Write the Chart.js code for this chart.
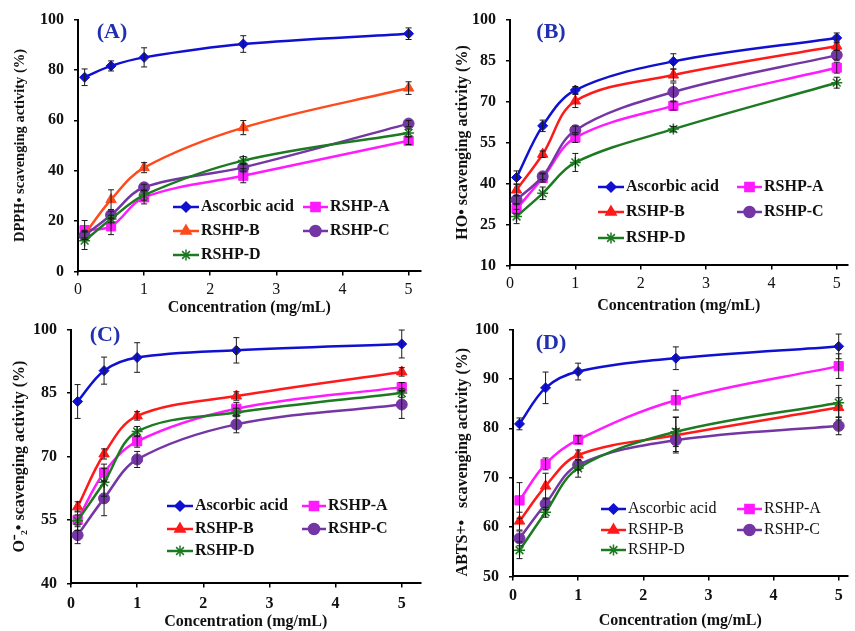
<!DOCTYPE html>
<html lang="en">
<head>
<meta charset="UTF-8">
<title>Radical scavenging activity of RSHP fractions</title>
<script src="https://cdn.jsdelivr.net/npm/chart.js"></script>
<style>
    body {
        margin: 0;
        background: #fff;
        overflow: hidden;
    }
    .board {
        position: relative;
        width: 855px;
        height: 631px;
    }
    .board canvas {
        position: absolute;
    }
</style>
</head>
<body>
<div class="board">
    <canvas id="dpphChart"></canvas>
    <canvas id="hoChart"></canvas>
    <canvas id="superoxideChart"></canvas>
    <canvas id="abtsChart"></canvas>
</div>
<script>
// shared x values and legend entries
const concentrations = [0.1, 0.5, 1, 2.5, 5];
const concTicks = [0, 1, 2, 3, 4, 5];
const seriesNames = ['Ascorbic acid', 'RSHP-A', 'RSHP-B', 'RSHP-C', 'RSHP-D'];

// (A) DPPH, rows follow seriesNames
const dpphTicks = [0, 20, 40, 60, 80, 100];
const dpphValues = [
    [77.1, 81.6, 85.0, 90.3, 94.4],
    [16.4, 17.9, 29.4, 38.0, 51.9],
    [14.8, 28.5, 41.2, 57.1, 72.8],
    [14.2, 22.4, 33.4, 41.3, 58.7],
    [12.2, 20.8, 30.3, 44.0, 55.0]
];
const dpphErrors = [
    [3.3, 2.0, 3.8, 3.3, 2.3],
    [3.8, 3.3, 2.6, 2.8, 1.5],
    [1.5, 3.9, 2.0, 2.8, 2.5],
    [1.5, 1.5, 1.2, 1.5, 1.2],
    [3.5, 1.5, 2.0, 1.6, 1.5]
];

// (B) hydroxyl radical
const hoTicks = [10, 25, 40, 55, 70, 85, 100];
const hoValues = [
    [42.2, 61.1, 74.2, 84.7, 93.3],
    [30.7, 42.0, 56.8, 68.4, 82.4],
    [37.6, 50.7, 70.2, 79.7, 90.3],
    [34.0, 42.6, 59.5, 73.5, 87.0],
    [27.9, 36.4, 47.7, 59.9, 76.9]
];
const hoErrors = [
    [2.4, 2.1, 1.3, 2.8, 1.8],
    [1.8, 1.5, 1.8, 1.5, 2.0],
    [2.1, 1.2, 2.4, 2.2, 1.5],
    [1.5, 1.2, 1.5, 3.3, 1.8],
    [2.6, 2.3, 3.3, 1.0, 2.0]
];

// (C) superoxide anion
const superoxideTicks = [40, 55, 70, 85, 100];
const superoxideValues = [
    [83.0, 90.3, 93.4, 95.1, 96.6],
    [55.0, 66.2, 73.6, 81.3, 86.4],
    [58.1, 70.6, 79.6, 84.3, 90.0],
    [51.4, 60.1, 69.3, 77.6, 82.3],
    [54.8, 63.9, 75.9, 80.4, 85.0]
];
const superoxideErrors = [
    [4.0, 3.2, 3.5, 3.0, 3.3],
    [1.2, 2.0, 1.4, 1.5, 1.1],
    [1.2, 1.2, 1.0, 1.0, 1.0],
    [2.0, 4.1, 1.9, 2.0, 3.3],
    [2.3, 3.3, 1.2, 1.0, 1.0]
];

// (D) ABTS radical cation
const abtsTicks = [50, 60, 70, 80, 90, 100];
const abtsValues = [
    [80.9, 88.2, 91.5, 94.2, 96.6],
    [65.4, 72.8, 77.7, 85.7, 92.6],
    [61.2, 68.3, 74.6, 78.6, 84.2],
    [57.7, 64.7, 72.6, 77.6, 80.5],
    [55.3, 63.0, 71.9, 79.3, 85.2]
];
const abtsErrors = [
    [1.2, 3.2, 1.7, 2.3, 2.5],
    [3.6, 1.2, 0.8, 2.0, 2.5],
    [1.8, 2.6, 1.0, 3.6, 2.0],
    [1.5, 1.2, 1.0, 2.3, 1.8],
    [1.7, 1.0, 1.8, 3.0, 3.5]
];

const SERIF = "'Liberation Serif', 'Times New Roman', serif";
const markers = [
    { style: 'rectRot', radius: 5 },
    { style: 'rect', radius: 6.5 },
    { style: 'triangle', radius: 6 },
    { style: 'circle', radius: 5.5 },
    { style: 'star', radius: 5.5 }
];
const colorsRed = ['#1010d0', '#ff1aff', '#ff1a1a', '#7436a4', '#1d7a22'];
const colorsOrange = ['#1010d0', '#ff1aff', '#ff4a1c', '#7436a4', '#1d7a22'];

// vertical error bars with small caps
const errorBars = {
    id: 'errorBars',
    afterDatasetsDraw(chart) {
        const { ctx } = chart;
        const y = chart.scales.y;
        ctx.save();
        ctx.strokeStyle = '#1a1a1a';
        ctx.lineWidth = 1;
        chart.data.datasets.forEach((ds, i) => {
            const meta = chart.getDatasetMeta(i);
            ds.errors.forEach((err, j) => {
                const px = meta.data[j].x;
                const top = y.getPixelForValue(ds.data[j].y + err);
                const bot = y.getPixelForValue(ds.data[j].y - err);
                ctx.beginPath();
                ctx.moveTo(px, top); ctx.lineTo(px, bot);
                ctx.moveTo(px - 3, top); ctx.lineTo(px + 3, top);
                ctx.moveTo(px - 3, bot); ctx.lineTo(px + 3, bot);
                ctx.stroke();
            });
        });
        ctx.restore();
    }
};

// two-column legend sitting inside the plot
const panelLegend = {
    id: 'panelLegend',
    afterDraw(chart, args, opts) {
        const { ctx } = chart;
        const slots = [[0, 0], [1, 0], [0, 1], [1, 1], [0, 2]];
        ctx.save();
        ctx.font = opts.font;
        ctx.textBaseline = 'middle';
        ctx.textAlign = 'left';
        chart.data.datasets.forEach((ds, i) => {
            const col = opts.cols[slots[i][0]];
            const yy = opts.rows[slots[i][1]];
            ctx.strokeStyle = ds.borderColor;
            ctx.fillStyle = ds.borderColor;
            ctx.lineWidth = 2.5;
            ctx.beginPath();
            ctx.moveTo(col[0], yy);
            ctx.lineTo(col[1], yy);
            ctx.stroke();
            ctx.lineWidth = 1.5;
            Chart.helpers.drawPoint(ctx, {
                pointStyle: ds.pointStyle,
                radius: ds.pointRadius,
                rotation: 0,
                borderWidth: 1.5
            }, (col[0] + col[1]) / 2, yy);
            ctx.fillStyle = '#111';
            ctx.fillText(ds.label, col[2], yy);
        });
        ctx.restore();
    }
};

// panel letter in the top-left corner
const panelTag = {
    id: 'panelTag',
    afterDraw(chart, args, opts) {
        const { ctx } = chart;
        ctx.save();
        ctx.font = 'bold 22px ' + SERIF;
        ctx.fillStyle = '#2030b0';
        ctx.textAlign = 'center';
        ctx.textBaseline = 'middle';
        ctx.fillText(opts.text, opts.x, opts.y);
        ctx.restore();
    }
};

function buildPanel(id, p) {
    const canvas = document.getElementById(id);
    const xHeight = p.titleY + 9.6 - p.area.bottom;
    canvas.width = p.width;
    canvas.height = Math.ceil(p.area.bottom + xHeight - p.top);
    canvas.style.left = p.left + 'px';
    canvas.style.top = p.top + 'px';

    const pxPerUnit = (p.x5 - p.area.left) / 5;
    const xMax = (p.area.right - p.area.left) / pxPerUnit;
    const rel = (v, o) => v - o;
    const yTitleSize = p.yTitleSize || 16;

    const datasets = seriesNames.map((name, i) => ({
        label: name,
        data: concentrations.map((c, j) => ({ x: c, y: p.values[i][j] })),
        errors: p.errors[i],
        borderColor: p.colors[i],
        backgroundColor: p.colors[i],
        pointBackgroundColor: p.colors[i],
        pointBorderColor: p.colors[i],
        pointStyle: markers[i].style,
        pointRadius: markers[i].radius,
        pointBorderWidth: i === 4 ? 1.5 : 1,
        borderWidth: 2.5,
        tension: 0.35,
        clip: false,
        order: seriesNames.length - i
    }));

    new Chart(canvas, {
        type: 'line',
        data: { datasets },
        options: {
            responsive: false,
            animation: false,
            layout: {
                padding: {
                    left: 0,
                    top: p.area.top - p.top,
                    right: p.left + p.width - p.area.right,
                    bottom: 0
                }
            },
            plugins: {
                legend: { display: false },
                tooltip: { enabled: false },
                panelLegend: {
                    font: p.legendFont,
                    cols: p.legendCols.map(c => c.map(v => rel(v, p.left))),
                    rows: p.legendRows.map(v => rel(v, p.top))
                },
                panelTag: { text: p.tag, x: p.tagX - p.left, y: p.tagY - p.top }
            },
            scales: {
                x: {
                    type: 'linear',
                    min: 0,
                    max: xMax,
                    afterBuildTicks: s => { s.ticks = concTicks.map(v => ({ value: v })); },
                    afterFit: s => { s.height = xHeight; },
                    grid: { drawOnChartArea: false, tickLength: 4, color: '#000', lineWidth: 1.5 },
                    border: { color: '#000', width: 2 },
                    ticks: {
                        color: '#111',
                        padding: p.xTickPad,
                        maxRotation: 0,
                        font: { family: SERIF, size: 16, weight: p.xTickWeight }
                    },
                    title: {
                        display: true,
                        text: 'Concentration (mg/mL)',
                        color: '#111',
                        padding: 0,
                        font: { family: SERIF, size: 16, weight: 'bold' }
                    }
                },
                y: {
                    min: p.yTicks[0],
                    max: p.yTicks[p.yTicks.length - 1],
                    afterBuildTicks: s => { s.ticks = p.yTicks.map(v => ({ value: v })); },
                    afterFit: s => { s.width = p.area.left - p.left; },
                    grid: { drawOnChartArea: false, tickLength: 4, color: '#000', lineWidth: 1.5 },
                    border: { color: '#000', width: 2 },
                    ticks: {
                        color: '#111',
                        padding: 10,
                        font: { family: SERIF, size: 16, weight: 'bold' }
                    },
                    title: {
                        display: true,
                        text: p.yTitle,
                        color: '#111',
                        align: p.yTitleAlign || 'center',
                        padding: { top: p.yTitleX - p.left - yTitleSize * 0.6, bottom: 0 },
                        font: { family: SERIF, size: yTitleSize, weight: 'bold' }
                    }
                }
            }
        },
        plugins: [errorBars, panelLegend, panelTag]
    });
}

buildPanel('dpphChart', {
    left: 0, top: 0, width: 428,
    area: { left: 78, top: 19, right: 423, bottom: 271 }, x5: 411,
    titleY: 307, xTickPad: 5, xTickWeight: 'normal', yTitleX: 20, yTitleSize: 14.5,
    yTicks: dpphTicks, values: dpphValues, errors: dpphErrors, colors: colorsOrange,
    yTitle: 'DPPH\u2022 scavenging activity (%)',
    tag: '(A)', tagX: 112, tagY: 32,
    legendFont: 'bold 16px ' + SERIF,
    legendCols: [[173, 199, 201], [303, 328, 330]], legendRows: [207, 231, 255]
});

buildPanel('hoChart', {
    left: 428, top: 0, width: 427,
    area: { left: 510, top: 18, right: 855, bottom: 265 }, x5: 844,
    titleY: 305, xTickPad: 4.5, xTickWeight: 'normal', yTitleX: 463,
    yTicks: hoTicks, values: hoValues, errors: hoErrors, colors: colorsRed,
    yTitle: 'HO\u2022 scavenging activity (%)',
    tag: '(B)', tagX: 551, tagY: 32,
    legendFont: 'bold 16px ' + SERIF,
    legendCols: [[598, 624, 626], [737, 762, 764]], legendRows: [187, 212, 238]
});

buildPanel('superoxideChart', {
    left: 0, top: 310, width: 428,
    area: { left: 71, top: 324, right: 425, bottom: 583 }, x5: 406,
    titleY: 621, xTickPad: 7, xTickWeight: 'bold', yTitleX: 20,
    yTicks: superoxideTicks, values: superoxideValues, errors: superoxideErrors, colors: colorsRed,
    yTitle: 'O\u207B\u2082\u2022 scavenging activity (%)',
    tag: '(C)', tagX: 105, tagY: 335,
    legendFont: 'bold 16px ' + SERIF,
    legendCols: [[167, 193, 195], [302, 326, 328]], legendRows: [506, 529, 551]
});

buildPanel('abtsChart', {
    left: 428, top: 310, width: 427,
    area: { left: 513, top: 324, right: 855, bottom: 576 }, x5: 846,
    titleY: 620, xTickPad: 5.4, xTickWeight: 'bold', yTitleX: 463, yTitleAlign: 'start',
    yTicks: abtsTicks, values: abtsValues, errors: abtsErrors, colors: colorsRed,
    yTitle: 'ABTS+\u2022   scavenging activity (%)',
    tag: '(D)', tagX: 551, tagY: 343,
    legendFont: '16px ' + SERIF,
    legendCols: [[601, 626, 628], [737, 762, 764]], legendRows: [509, 530, 550]
});
</script>
</body>
</html>
